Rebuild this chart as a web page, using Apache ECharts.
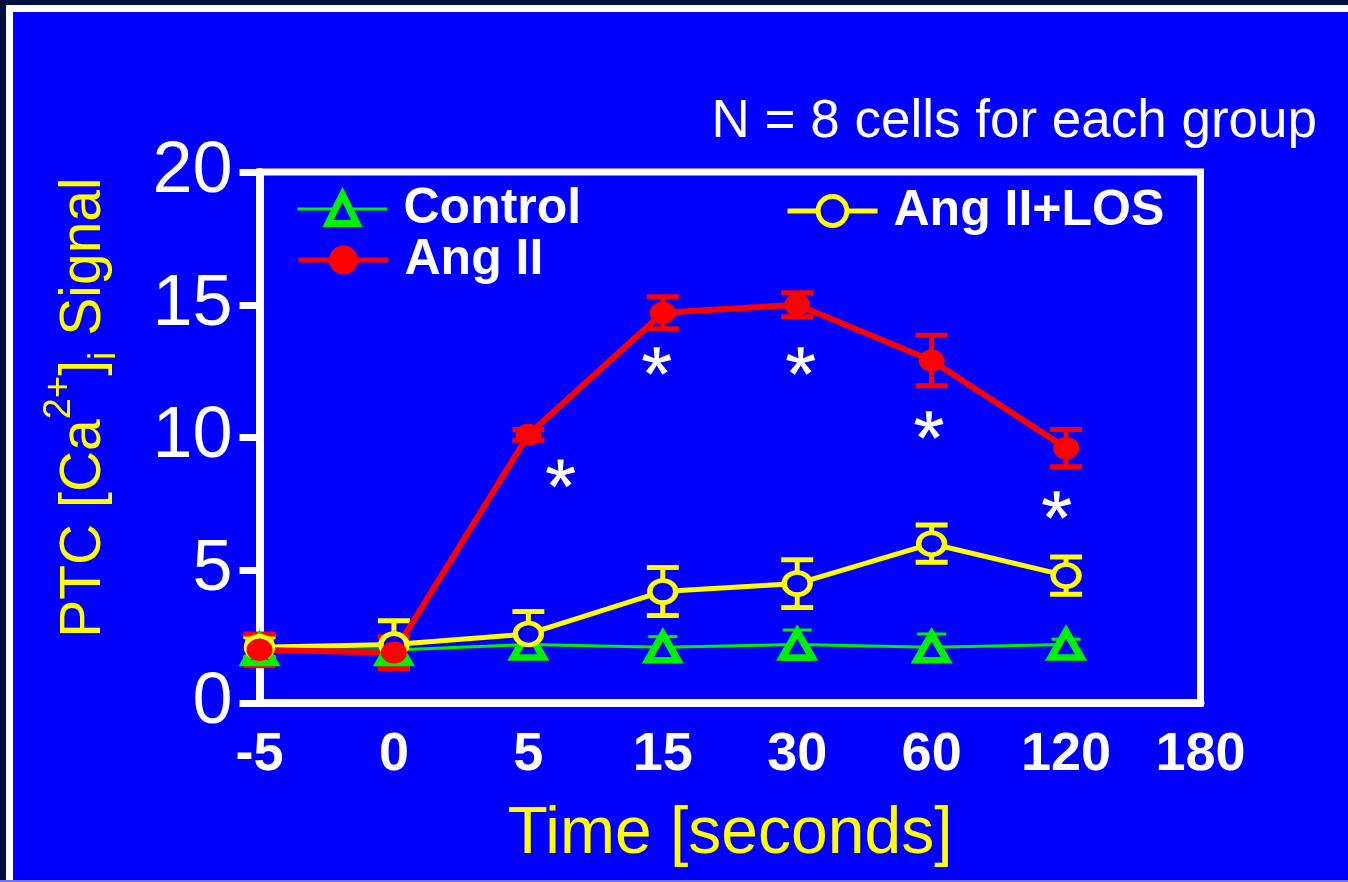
<!DOCTYPE html>
<html><head><meta charset="utf-8">
<script src="https://cdn.jsdelivr.net/npm/echarts@6/dist/echarts.min.js"></script>
<style>html,body{margin:0;padding:0;background:#001040;}#c{width:1348px;height:882px;}</style>
</head><body><div id="c"></div>
<script>
const timeLabels = ['-5', '0', '5', '15', '30', '60', '120', '180'];
const controlMean = [2.0, 2.0, 2.2, 2.1, 2.2, 2.1, 2.2];
const controlErr  = [0.35, 0.3, 0.4, 0.4, 0.55, 0.5, 0.2];
const angMean = [2.0, 1.9, 10.1, 14.7, 15.0, 12.9, 9.6];
const angErr  = [0.6, 0.6, 0.2, 0.6, 0.45, 0.95, 0.7];
const losMean = [2.1, 2.2, 2.6, 4.2, 4.5, 6.0, 4.8];
const losErr  = [0.4, 0.9, 0.85, 0.9, 0.9, 0.7, 0.7];
const starX = [2.24, 2.955, 4.026, 4.98, 5.93];
const starY = [8.65, 12.88, 12.88, 10.47, 7.46];

const BLUE = '#0000ff', GREEN = '#00f000', RED = '#ff0000', YELLOW = '#ffff00', WHITE = '#ffffff';
const FONT = "'Liberation Sans', Arial, Helvetica, sans-serif";

function pairs(arr) { return arr.map((v, i) => [i, v]); }
function errData(mean, err) { return mean.map((v, i) => [i, v - err[i], v + err[i]]); }

function errRender(color, capW, capT, stemW) {
  return function (params, api) {
    const x = api.value(0), lo = api.value(1), hi = api.value(2);
    const a = api.coord([x, lo]), b = api.coord([x, hi]);
    return {
      type: 'group', children: [
        { type: 'line', shape: { x1: a[0], y1: a[1], x2: b[0], y2: b[1] }, style: { stroke: color, lineWidth: stemW } },
        { type: 'line', shape: { x1: b[0] - capW / 2, y1: b[1], x2: b[0] + capW / 2, y2: b[1] }, style: { stroke: color, lineWidth: capT } },
        { type: 'line', shape: { x1: a[0] - capW / 2, y1: a[1], x2: a[0] + capW / 2, y2: a[1] }, style: { stroke: color, lineWidth: capT } }
      ]
    };
  };
}

function asteriskPath() {
  const R = 50, wi = 7, wo = 11;
  let d = '';
  for (let k = 0; k < 5; k++) {
    const ang = (-90 + 72 * k) * Math.PI / 180;
    const ux = Math.cos(ang), uy = Math.sin(ang), px = -uy, py = ux;
    const pts = [[px * wi, py * wi], [ux * R + px * wo, uy * R + py * wo], [ux * R - px * wo, uy * R - py * wo], [-px * wi, -py * wi]];
    d += 'M' + pts.map(p => (p[0] + 70).toFixed(2) + ' ' + (p[1] + 70).toFixed(2)).join('L') + 'Z';
  }
  return 'path://' + d;
}

const chart = echarts.init(document.getElementById('c'));
const legendText = { color: WHITE, fontSize: 50, fontWeight: 'bold', fontFamily: FONT, lineHeight: 50, padding: [0, 0, 0, 11] };
const legendBase = { orient: 'horizontal', itemWidth: 90, itemHeight: 36, padding: 0, selectedMode: false, textStyle: legendText };

chart.setOption({
  animation: false,
  backgroundColor: BLUE,
  title: {
    text: 'N = 8 cells for each group', right: 31, top: 96, padding: 0,
    textStyle: { color: WHITE, fontSize: 53, fontWeight: 'normal', fontFamily: FONT, lineHeight: 53 }
  },
  graphic: [
    { type: 'rect', z: 100, shape: { x: 0, y: 0, width: 1348, height: 5 }, style: { fill: '#001040' } },
    { type: 'rect', z: 100, shape: { x: 0, y: 0, width: 6, height: 882 }, style: { fill: '#001040' } },
    { type: 'rect', z: 100, shape: { x: 6, y: 5, width: 1342, height: 7 }, style: { fill: WHITE } },
    { type: 'rect', z: 100, shape: { x: 6, y: 5, width: 7, height: 877 }, style: { fill: WHITE } },
    { type: 'rect', z: 100, shape: { x: 0, y: 880, width: 1348, height: 2 }, style: { fill: '#7070ff' } }
  ],
  legend: [
    Object.assign({ data: [{ name: 'Control', itemStyle: { borderWidth: 7 }, lineStyle: { width: 3 } }], left: 296, top: 184 }, legendBase),
    Object.assign({ data: [{ name: 'Ang II', lineStyle: { width: 5 } }], left: 296, top: 235 }, legendBase),
    Object.assign({ data: [{ name: 'Ang II+LOS', itemStyle: { borderWidth: 5 }, lineStyle: { width: 5 } }], left: 785, top: 186 }, legendBase)
  ],
  grid: { left: 259.5, right: 147.5, top: 172, bottom: 179, show: true, borderColor: WHITE, borderWidth: 7, backgroundColor: 'transparent' },
  xAxis: {
    type: 'value', min: 0, max: 7, interval: 1,
    axisLine: { show: true, lineStyle: { color: WHITE, width: 8 } },
    axisTick: { show: false },
    splitLine: { show: false },
    axisLabel: {
      color: WHITE, fontSize: 54, fontWeight: 'bold', fontFamily: FONT, lineHeight: 54, margin: 25,
      formatter: v => timeLabels[v]
    },
    name: 'Time [seconds]', nameLocation: 'middle', nameGap: 99,
    nameTextStyle: { color: YELLOW, fontSize: 66, fontFamily: FONT, lineHeight: 66 }
  },
  yAxis: {
    type: 'value', min: 0, max: 20, interval: 5,
    axisLine: { show: true, lineStyle: { color: WHITE, width: 8 } },
    axisTick: { show: true, inside: false, length: 20, lineStyle: { color: WHITE, width: 7 } },
    splitLine: { show: false },
    axisLabel: { color: WHITE, fontSize: 72, fontFamily: FONT, margin: 27 },
    name: '{m|PTC [Ca}{sup|2+}{m|]}{sub|i}{m| Signal}', nameLocation: 'middle', nameGap: 124,
    nameTextStyle: {
      color: YELLOW, fontSize: 57, fontFamily: FONT, lineHeight: 102, padding: [0, 0, 0, 60],
      rich: {
        m: { color: YELLOW, fontSize: 57, fontFamily: FONT, lineHeight: 102 },
        sup: { color: YELLOW, fontSize: 38, fontFamily: FONT, lineHeight: 38, verticalAlign: 'top', padding: [7, 0, 0, 0] },
        sub: { color: YELLOW, fontSize: 38, fontFamily: FONT, lineHeight: 38, verticalAlign: 'bottom', padding: [0, 0, 12, 0] }
      }
    }
  },
  series: [
    { name: 'Control err', type: 'custom', renderItem: errRender(GREEN, 29, 3, 4), data: errData(controlMean, controlErr), z: 2, silent: true },
    {
      name: 'Control', type: 'line', data: pairs(controlMean), z: 2, silent: true,
      symbol: 'triangle', symbolSize: [30, 26],
      lineStyle: { color: GREEN, width: 3 },
      itemStyle: { color: BLUE, borderColor: GREEN, borderWidth: 7 },
      emphasis: { disabled: true }
    },
    { name: 'LOS err', type: 'custom', renderItem: errRender(YELLOW, 32, 5, 5), data: errData(losMean, losErr), z: 2, silent: true },
    {
      name: 'Ang II+LOS', type: 'line', data: pairs(losMean), z: 2, silent: true,
      symbol: 'circle', symbolSize: [26, 22],
      lineStyle: { color: YELLOW, width: 5 },
      itemStyle: { color: BLUE, borderColor: YELLOW, borderWidth: 5 },
      emphasis: { disabled: true }
    },
    { name: 'Ang II err', type: 'custom', renderItem: errRender(RED, 32, 5, 5), data: errData(angMean, angErr), z: 2, silent: true },
    {
      name: 'Ang II', type: 'line', data: pairs(angMean), z: 2, silent: true,
      symbol: 'circle', symbolSize: [26, 22],
      lineStyle: { color: RED, width: 6 },
      itemStyle: { color: RED },
      emphasis: { disabled: true }
    },
    {
      name: 'Significance', type: 'scatter', z: 3, silent: true,
      data: starX.map((x, i) => [x, starY[i]]),
      symbol: asteriskPath(), symbolSize: [29, 29], symbolKeepAspect: true,
      itemStyle: { color: WHITE, opacity: 1 },
      emphasis: { disabled: true }
    }
  ]
});
</script>
</body></html>
